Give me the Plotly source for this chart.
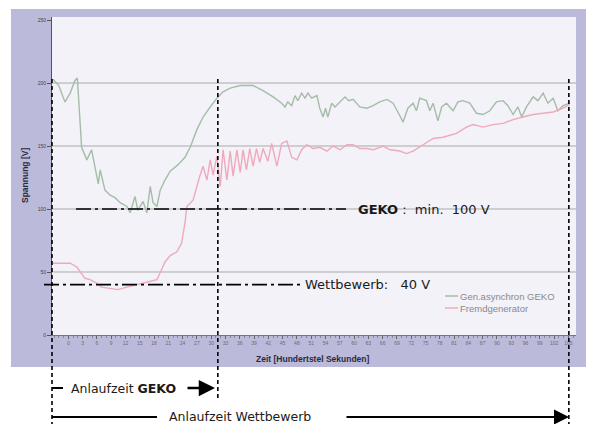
import plotly.graph_objects as go

# ---------------- data ----------------
SERIES_GEKO = "Gen.asynchron GEKO"
SERIES_FREMD = "Fremdgenerator"

# time in hundredths of a second
G_T = [-3.2, -2.0, -0.7, 0.4, 1.4, 1.9, 2.8, 3.9, 4.9, 5.6, 6.3, 6.7, 7.7, 8.8, 9.8, 10.9,
       12.3, 13.0, 14.0, 14.6, 15.7, 16.5, 17.2, 17.8, 18.6, 19.3, 20.3, 21.4, 23.0, 24.5,
       25.6, 27.0, 28.3, 29.8, 31.2, 32.5, 34.0, 36.1, 38.8, 40.9, 43.0, 44.8, 45.5, 46.1,
       46.9, 47.6, 48.2, 49.0, 49.7, 50.3, 51.1, 52.2, 52.8, 53.5, 54.0, 54.5, 55.3, 56.0,
       57.1, 58.1, 58.9, 59.8, 61.2, 62.7, 64.0, 65.4, 66.9, 68.2, 69.2, 70.3, 71.3, 72.4,
       73.1, 73.8, 75.2, 75.9, 76.6, 77.6, 78.4, 79.4, 80.8, 81.8, 82.9, 84.3, 85.7, 87.1,
       88.5, 89.9, 91.3, 92.3, 93.4, 94.4, 95.2, 96.2, 97.6, 98.6, 99.7, 100.7, 101.8,
       102.8, 103.9, 105.3]
G_V = [203, 198, 185, 192, 202, 204, 149, 139, 147, 134, 120, 131, 115, 111, 109, 105,
       102, 97, 110, 99, 106, 97, 118, 105, 102, 115, 123, 130, 135, 141,
       149, 163, 173, 181, 188, 193, 196, 198, 198, 194, 189, 184, 181, 185,
       182, 190, 186, 192, 188, 192, 188, 190, 180, 173, 180, 173, 184, 181,
       185, 189, 186, 187, 181, 180, 182, 185, 187, 184, 177, 169, 180, 184,
       178, 188, 186, 178, 184, 170, 181, 184, 178, 185, 186, 184, 176, 175,
       178, 185, 186, 182, 175, 181, 173, 181, 189, 186, 192, 184, 188,
       178, 182, 184]

P_T = [-3.2, 0.4, 1.8, 2.5, 3.5, 4.6, 6.0, 7.0, 8.8, 10.4, 12.3, 14.4, 16.5, 18.6, 19.6,
       20.3, 21.4, 22.8, 23.8, 24.5, 24.9, 26.2, 27.6, 28.3, 29.1, 29.8, 30.4, 31.2, 31.9,
       32.5, 33.3, 34.0, 34.6, 35.4, 36.1, 36.7, 37.4, 38.1, 38.8, 39.5, 40.2, 40.9, 41.9,
       42.7, 43.8, 44.8, 45.9, 46.9, 48.0, 49.0, 50.1, 51.4, 52.8, 54.3, 55.6, 57.1, 58.5,
       59.8, 61.2, 62.7, 64.0, 66.1, 67.6, 69.6, 71.0, 72.4, 74.5, 76.6, 78.7, 81.5, 83.6,
       85.0, 87.1, 89.2, 91.3, 93.4, 95.5, 97.6, 99.7, 101.8, 103.9, 105.3]
P_V = [57, 57, 54, 50, 45, 44, 41, 38, 37, 36, 38, 40, 42, 44, 52,
       58, 63, 66, 73, 89, 102, 107, 126, 134, 123, 139, 127, 142, 118,
       147, 123, 146, 126, 147, 129, 147, 131, 148, 134, 148, 137, 148, 138,
       152, 134, 152, 154, 141, 139, 147, 151, 148, 149, 146, 150, 147, 151,
       151, 148, 148, 147, 150, 147, 146, 144, 146, 151, 156, 157, 160, 165,
       167, 165, 167, 168, 171, 173, 175, 176, 177, 180, 183]

X_TICKS = list(range(0, 106, 3))
Y_TICKS = [0, 50, 100, 150, 200, 250]
GRID_V = [50, 100, 150, 200]

T_GEKO_READY = 31.4      # end of GEKO start-up
T_WETT_READY = 105.1     # end of competitor start-up
V_GEKO_MIN = 100
V_WETT = 40

# ---------------- geometry ----------------
W, H = 596, 424
PL, PR, PT, PB = 52, 576, 17, 335
X_MIN, X_MAX = -3.42, 106.6
Y_MAX = 252.4


def xp(px):
    return (px - PL) / (PR - PL)


def yp(py):
    return (PB - py) / (PB - PT)


def xv(v):
    return (v - X_MIN) / (X_MAX - X_MIN)


def yv(v):
    return v / Y_MAX


GREEN = "#a5bda7"
PINK = "#f0a9bb"
TXT = "DejaVu Sans"

fig = go.Figure()
fig.add_trace(go.Scatter(x=G_T, y=G_V, mode="lines", name=SERIES_GEKO,
                         line=dict(color=GREEN, width=1.4), showlegend=False))
fig.add_trace(go.Scatter(x=P_T, y=P_V, mode="lines", name=SERIES_FREMD,
                         line=dict(color=PINK, width=1.4), showlegend=False))

shapes = []
# lavender frame and plot area
shapes.append(dict(type="rect", xref="paper", yref="paper", x0=xp(11), x1=xp(586),
                   y0=yp(367), y1=yp(9), fillcolor="#bbbada", line=dict(width=0), layer="below"))
shapes.append(dict(type="rect", xref="paper", yref="paper", x0=0, x1=1, y0=0, y1=yp(17),
                   fillcolor="#f2f2f8", line=dict(width=0), layer="below"))
for g in GRID_V:
    shapes.append(dict(type="line", xref="paper", yref="y", x0=0, x1=1, y0=g, y1=g,
                       line=dict(color="#ababab", width=1), layer="below"))

# dashed vertical markers
DASH = "4px,3px"
for xpos, ybot in [(0.0, 424), (xv(T_GEKO_READY), 398), (xv(T_WETT_READY), 424)]:
    shapes.append(dict(type="line", xref="paper", yref="paper", x0=xpos, x1=xpos,
                       y0=yp(79), y1=yp(ybot), line=dict(color="black", width=1.6, dash=DASH)))

# dash-dot thresholds
DD = "15px,4px,3px,4px"
shapes.append(dict(type="line", xref="paper", yref="paper", x0=xp(76), x1=xp(346),
                   y0=yv(V_GEKO_MIN), y1=yv(V_GEKO_MIN), line=dict(color="black", width=1.6, dash=DD)))
shapes.append(dict(type="line", xref="paper", yref="paper", x0=xp(44), x1=xp(300),
                   y0=yv(V_WETT), y1=yv(V_WETT), line=dict(color="black", width=1.6, dash=DD)))

# start-up time rows
shapes.append(dict(type="line", xref="paper", yref="paper", x0=xp(52), x1=xp(63),
                   y0=yp(388), y1=yp(388), line=dict(color="black", width=2)))
shapes.append(dict(type="line", xref="paper", yref="paper", x0=xp(52), x1=xp(157),
                   y0=yp(417), y1=yp(417), line=dict(color="black", width=2)))

# legend samples
shapes.append(dict(type="line", xref="paper", yref="paper", x0=xp(445), x1=xp(458),
                   y0=yp(296), y1=yp(296), line=dict(color=GREEN, width=1.5)))
shapes.append(dict(type="line", xref="paper", yref="paper", x0=xp(445), x1=xp(458),
                   y0=yp(308), y1=yp(308), line=dict(color=PINK, width=1.5)))

ann = []


def text(x, y, t, size=12, color="#1a1a1a", family=TXT, xanchor="left", angle=0):
    ann.append(dict(x=x, y=y, xref="paper", yref="paper", text=t, showarrow=False,
                    xanchor=xanchor, yanchor="middle", textangle=angle,
                    font=dict(size=size, color=color, family=family)))


text(xp(356), yv(V_GEKO_MIN), "<b>GEKO</b> :  min.  100 V", size=13)
text(xp(303), yv(V_WETT), "Wettbewerb:   40 V", size=13)
text(xp(69), yp(388), "Anlaufzeit <b>GEKO</b>", size=12.5)
text(xp(167), yp(416), "Anlaufzeit Wettbewerb", size=12.5)
text(xp(458), yp(296), SERIES_GEKO, size=9.5, color="#8a8a8a", family="Liberation Sans")
text(xp(458), yp(308), SERIES_FREMD, size=9.5, color="#8a8a8a", family="Liberation Sans")
text(xp(313), yp(359), "<b>Zeit [Hundertstel Sekunden]</b>", size=8.5, color="#2a2a3a",
     family="Liberation Sans", xanchor="center")
text(xp(25), yp(176), "<b>Spannung [V]</b>", size=8.5, color="#2a2a3a",
     family="Liberation Sans", xanchor="center", angle=-90)

# arrows
ann.append(dict(x=xp(215), y=yp(388), xref="paper", yref="paper", text="", showarrow=True,
                ax=-29, ay=0, arrowhead=2, arrowsize=1.3, arrowwidth=2.5, arrowcolor="black",
                standoff=0, startstandoff=0))
ann.append(dict(x=xp(569), y=yp(417), xref="paper", yref="paper", text="", showarrow=True,
                ax=-224, ay=0, arrowhead=2, arrowsize=1.5, arrowwidth=2, arrowcolor="black",
                standoff=0, startstandoff=0))

fig.update_layout(
    width=W, height=H, autosize=False,
    margin=dict(l=PL, r=W - PR, t=PT, b=H - PB, pad=0),
    paper_bgcolor="white", plot_bgcolor="rgba(0,0,0,0)",
    shapes=shapes, annotations=ann, showlegend=False,
    xaxis=dict(range=[X_MIN, X_MAX], tickmode="array", tickvals=X_TICKS,
               ticktext=[str(t) for t in X_TICKS], ticks="outside", ticklen=3,
               tickcolor="#666", tickfont=dict(size=5, color="#6a6a80", family="Liberation Sans"),
               showline=True, linecolor="#777", linewidth=1, showgrid=False, zeroline=False,
               minor=dict(tickmode="linear", tick0=0, dtick=1, ticks="outside", ticklen=2,
                          tickcolor="#888", showgrid=False)),
    yaxis=dict(range=[0, Y_MAX], tickmode="array", tickvals=Y_TICKS, ticks="outside",
               ticklen=4, tickcolor="#555",
               tickfont=dict(size=5, color="#444", family="Liberation Sans"),
               showline=True, linecolor="#555", linewidth=1, showgrid=False, zeroline=False),
)

fig.write_html("out.html", config={"displayModeBar": False},
               post_script="document.body.style.margin='0';document.body.style.padding='0';"
                           "document.body.style.overflow='hidden';")
